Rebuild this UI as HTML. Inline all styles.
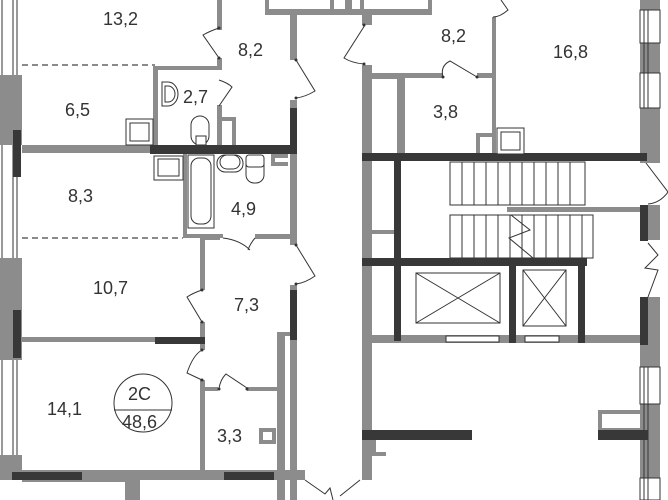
<!DOCTYPE html>
<html><head><meta charset="utf-8"><style>
html,body{margin:0;padding:0;background:#fff;width:668px;height:500px;overflow:hidden}
svg{display:block}
text{font-family:"Liberation Sans",sans-serif;fill:#333}
</style></head><body>
<svg width="668" height="500" viewBox="0 0 668 500" xmlns="http://www.w3.org/2000/svg">
<g fill="#8c8c8c">
<rect x="0" y="0" width="22" height="500" fill="#fff"/>
<rect x="0" y="75" width="22" height="70"/>
<rect x="0" y="258" width="22" height="102"/>
<rect x="0" y="455" width="22" height="20"/>
<rect x="265" y="9" width="167" height="6"/>
<rect x="265" y="0" width="4" height="12"/><rect x="330" y="0" width="4" height="12"/>
<rect x="345" y="0" width="7" height="12"/><rect x="360" y="0" width="4" height="12"/><rect x="428" y="0" width="4" height="12"/>
<rect x="217" y="0" width="5" height="30"/>
<rect x="217" y="58" width="5" height="8"/>
<rect x="155" y="66" width="67" height="4"/>
<rect x="153" y="66" width="5" height="84"/>
<rect x="217" y="105" width="5" height="45"/>
<rect x="222" y="117" width="14" height="4"/><rect x="232" y="117" width="4" height="30"/>
<rect x="22" y="145" width="130" height="8"/>
<rect x="290" y="15" width="7" height="45"/>
<rect x="290" y="100" width="7" height="8"/>
<rect x="290" y="154" width="7" height="91"/>
<rect x="271" y="154" width="17" height="4"/><rect x="271" y="154" width="4" height="12"/><rect x="271" y="162" width="17" height="4"/>
<rect x="183" y="154" width="4" height="84"/>
<rect x="183" y="234" width="40" height="4"/>
<rect x="205" y="234" width="15" height="6"/>
<rect x="255" y="234" width="35" height="5"/>
<rect x="200" y="238" width="5" height="52"/>
<rect x="200" y="322" width="5" height="28"/>
<rect x="22" y="337" width="133" height="5"/>
<rect x="200" y="380" width="5" height="92"/>
<rect x="205" y="387" width="13" height="4"/>
<rect x="247" y="387" width="31" height="4"/>
<rect x="277" y="332" width="8" height="168"/>
<rect x="285" y="332" width="5" height="4"/>
<rect x="259" y="428" width="17" height="16"/>
<rect x="290" y="285" width="7" height="6"/>
<rect x="0" y="470" width="305" height="10"/>
<rect x="22" y="470" width="115" height="12"/>
<rect x="125" y="480" width="15" height="20"/>
<rect x="290" y="340" width="7" height="160"/>
<rect x="362" y="12" width="10" height="13"/>
<rect x="362" y="65" width="10" height="375"/>
<rect x="362" y="73" width="43" height="6"/>
<rect x="397" y="73" width="8" height="82"/>
<rect x="405" y="73" width="38" height="5"/>
<rect x="477" y="73" width="19" height="5"/>
<rect x="492" y="17" width="4" height="138"/>
<rect x="476" y="133" width="16" height="22"/>
<rect x="372" y="230" width="22" height="4"/>
<rect x="507" y="207" width="133" height="5"/>
<rect x="362" y="335" width="278" height="8"/>
<rect x="362" y="343" width="10" height="137"/>
<rect x="372" y="440" width="14" height="16"/>
<rect x="598" y="410" width="42" height="22"/>
<rect x="640" y="0" width="20" height="163"/>
<rect x="648" y="205" width="12" height="35"/>
<rect x="640" y="297" width="20" height="203"/>
</g>
<g fill="#fff" stroke="#333" stroke-width="1">
<rect x="269" y="0" width="61" height="9" stroke="none"/>
<rect x="364" y="0" width="64" height="9" stroke="none"/>
<rect x="276" y="158" width="12" height="4" stroke="none"/>
<rect x="263" y="432" width="9" height="8" stroke="none"/>
<rect x="376" y="440" width="10" height="12" stroke="none"/>
<rect x="602" y="414" width="38" height="14" stroke="none"/>
<rect x="372" y="85" width="25" height="145" stroke="none"/>
<rect x="372" y="234" width="22" height="101" stroke="none"/>
<rect x="480" y="137" width="12" height="18" stroke="none"/>
<rect x="446" y="336" width="53" height="6"/>
<rect x="525" y="336" width="34" height="6"/>
<rect x="640" y="10" width="20" height="33"/>
<rect x="640" y="73" width="20" height="35"/>
<rect x="640" y="367" width="20" height="37"/>
<rect x="640" y="478" width="20" height="22"/>
</g>
<g stroke="#333" stroke-width="1">
<line x1="648" y1="10" x2="648" y2="108"/><line x1="644" y1="10" x2="644" y2="108"/>
<line x1="648" y1="367" x2="648" y2="500"/><line x1="644" y1="367" x2="644" y2="500"/>
<line x1="2" y1="0" x2="2" y2="75"/><line x1="13" y1="0" x2="13" y2="75"/><line x1="17" y1="0" x2="17" y2="75"/>
<line x1="2" y1="145" x2="2" y2="258"/><line x1="13" y1="145" x2="13" y2="258"/><line x1="17" y1="145" x2="17" y2="258"/>
<line x1="2" y1="360" x2="2" y2="455"/><line x1="13" y1="360" x2="13" y2="455"/><line x1="17" y1="360" x2="17" y2="455"/>
</g>
<g fill="#383838">
<rect x="13" y="130" width="8" height="47"/>
<rect x="13" y="310" width="8" height="48"/>
<rect x="150" y="145" width="147" height="9"/>
<rect x="290" y="108" width="7" height="46"/>
<rect x="155" y="337" width="50" height="7"/>
<rect x="290" y="290" width="7" height="50"/>
<rect x="12" y="472" width="70" height="8"/>
<rect x="224" y="472" width="50" height="8"/>
<rect x="362" y="153" width="285" height="8"/>
<rect x="394" y="161" width="7" height="180"/>
<rect x="362" y="258" width="225" height="8"/>
<rect x="509" y="266" width="7" height="77"/>
<rect x="578" y="266" width="7" height="77"/>
<rect x="640" y="205" width="8" height="36"/>
<rect x="640" y="297" width="8" height="48"/>
<rect x="362" y="430" width="110" height="10"/>
<rect x="598" y="430" width="50" height="10"/>
</g>
<g stroke="#444" stroke-width="1.3" stroke-dasharray="6,4">
<line x1="22" y1="65" x2="155" y2="65"/>
<line x1="22" y1="238" x2="183" y2="238"/>
</g>
<g fill="#fff" stroke="#333" stroke-width="1">
<rect x="450" y="162" width="135" height="43"/>
<rect x="450" y="215" width="143" height="43"/>
<path d="M462 162V205M474 162V205M486 162V205M498 162V205M510 162V205M522 162V205M534 162V205M546 162V205M558 162V205M570 162V205"/>
<path d="M462 215V258M474 215V258M486 215V258M498 215V258M510 215V258M522 215V258M534 215V258M546 215V258M558 215V258M570 215V258M582 215V258"/>
<path d="M511 215L530 230L509 238L533 258" fill="none"/>
<rect x="416" y="273" width="84" height="50"/>
<path d="M416 273L500 323M500 273L416 323"/>
<rect x="523" y="270" width="43" height="56"/>
<path d="M523 270L566 326M566 270L523 326"/>
</g>
<g fill="none" stroke="#333" stroke-width="1">
<path d="M219 28Q210 31 203 35L219 58"/>
<path d="M296 60L315 91Q305 97 296 98"/>
<path d="M219 80Q228 83 232 87L219 106"/>
<path d="M365 25L344 58Q352 63 364 64"/>
<path d="M443 77Q440 66 450 61L477 77"/>
<path d="M493 17Q500 17 508 10L501 0"/>
<path d="M202 290Q193 293 187 297L202 322"/>
<path d="M202 350Q193 355 187 373L202 380"/>
<path d="M219 389Q220 380 226 374L247 388"/>
<path d="M296 245L315 276Q305 283 296 284"/>
<path d="M223 238Q240 240 250 250M255 238Q250 244 248 250"/>
<path d="M646 163L668 192Q660 203 648 204"/>
<path d="M648 243L658 255L645 268L658 270L648 297"/>
<path d="M305 480L325 494L330 488L333 500M360 480L340 496"/>
</g>
<g fill="#333">
<circle cx="219" cy="28" r="1.5"/><circle cx="219" cy="58" r="1.5"/><circle cx="296" cy="60" r="1.5"/><circle cx="296" cy="98" r="1.5"/>
<circle cx="364" cy="25" r="1.5"/><circle cx="364" cy="64" r="1.5"/><circle cx="443" cy="77" r="1.5"/><circle cx="477" cy="77" r="1.5"/>
<circle cx="202" cy="290" r="1.5"/><circle cx="202" cy="322" r="1.5"/><circle cx="202" cy="350" r="1.5"/><circle cx="202" cy="380" r="1.5"/>
<circle cx="219" cy="389" r="1.5"/><circle cx="247" cy="389" r="1.5"/><circle cx="296" cy="245" r="1.5"/><circle cx="296" cy="284" r="1.5"/>
</g>
<g fill="#fff" stroke="#333" stroke-width="1">
<rect x="126" y="119" width="27" height="26"/><rect x="130" y="123" width="19" height="18"/>
<rect x="154" y="156" width="29" height="24"/><rect x="158" y="159" width="21" height="17"/>
<rect x="191" y="116" width="18" height="29" rx="9"/><rect x="196" y="136" width="10" height="9"/>
<rect x="188" y="155" width="26" height="73"/><rect x="191" y="158" width="20" height="66" rx="8"/>
<rect x="217" y="155" width="26" height="17" rx="8"/><rect x="220" y="155" width="20" height="14" rx="7"/>
<rect x="246" y="155" width="18" height="28" rx="8"/><rect x="246" y="155" width="18" height="12" rx="3"/>
<path d="M162 82H168A10 12 0 0 1 168 106H162Z"/><path d="M165 86H168A7 8 0 0 1 168 102H165Z"/>
<rect x="497" y="128" width="27" height="26"/><rect x="501" y="132" width="19" height="18"/>
</g>
<circle cx="143" cy="403" r="29" fill="#fff" stroke="#333" stroke-width="1"/>
<line x1="114" y1="410" x2="172" y2="410" stroke="#333" stroke-width="1"/>
<g font-size="18">
<text x="103" y="25">13,2</text>
<text x="238" y="56">8,2</text>
<text x="65" y="116">6,5</text>
<text x="183" y="103">2,7</text>
<text x="68" y="202">8,3</text>
<text x="231" y="215">4,9</text>
<text x="93" y="294">10,7</text>
<text x="234" y="311">7,3</text>
<text x="47" y="415">14,1</text>
<text x="217" y="442">3,3</text>
<text x="441" y="42">8,2</text>
<text x="553" y="58">16,8</text>
<text x="433" y="118">3,8</text>
<text x="128" y="400">2C</text>
<text x="122" y="428">48,6</text>
</g>
</svg>
</body></html>
